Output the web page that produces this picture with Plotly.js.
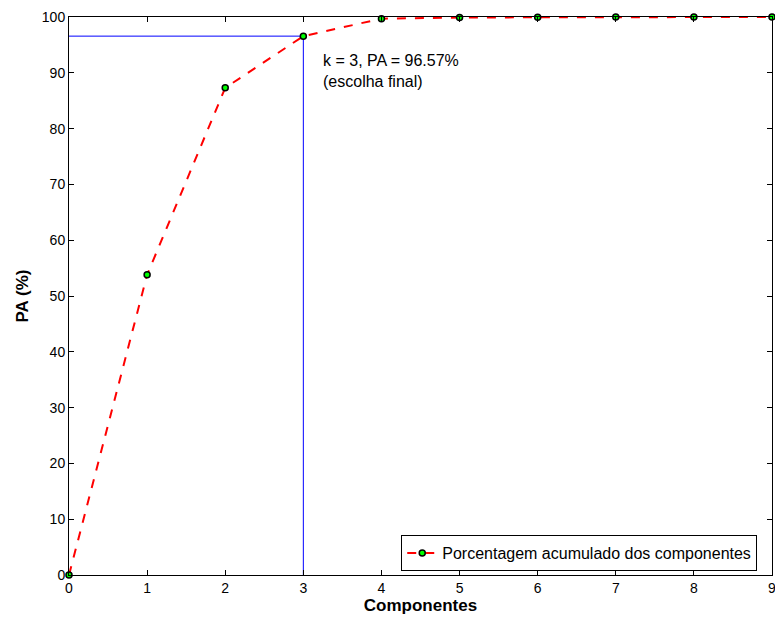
<!DOCTYPE html>
<html>
<head>
<meta charset="utf-8">
<script src="https://cdn.plot.ly/plotly-3.0.1.min.js"></script>
<style>html,body{margin:0;padding:0;background:#fff}</style>
</head>
<body>
<div id="graph" style="width:775px;height:621px"></div>
<script>
// componentes vs porcentagem acumulada
const components = [0, 1, 2, 3, 4, 5, 6, 7, 8, 9];
const pa = [0, 53.8, 87.3, 96.57, 99.7, 99.9, 99.95, 99.98, 99.99, 100];
const chosenK = 3;
const chosenPA = 96.57;

const font = "Liberation Sans, Arial, sans-serif";

const traces = [
  {
    x: [0, chosenK, chosenK],
    y: [chosenPA, chosenPA, 0],
    mode: "lines",
    line: { color: "#0000ff", width: 1 },
    showlegend: false,
    hoverinfo: "skip"
  },
  {
    x: components,
    y: pa,
    mode: "lines+markers",
    cliponaxis: false,
    name: "Porcentagem acumulado dos componentes",
    line: { color: "#ff0000", width: 2, dash: "dash" },
    marker: { color: "#00ff00", size: 6, line: { color: "#000", width: 1.5 } }
  }
];

const axis = {
  showline: true, mirror: "ticks", linecolor: "#000", linewidth: 1,
  ticks: "inside", ticklen: 5, tickcolor: "#000",
  showgrid: false, zeroline: false, ticklabeloverflow: "allow",
  tickfont: { family: font, size: 14, color: "#000" }
};

Plotly.newPlot("graph", traces, {
  width: 775, height: 621,
  margin: { l: 69, r: 3, t: 17, b: 46 },
  paper_bgcolor: "#fff", plot_bgcolor: "#fff",
  xaxis: Object.assign({}, axis, {
    range: [0, 9], dtick: 1,
    title: { text: "<b>Componentes</b>", font: { family: font, size: 17, color: "#000" }, standoff: 2 }
  }),
  yaxis: Object.assign({}, axis, {
    range: [0, 100], dtick: 10,
    title: { text: "<b>PA (%)</b>", font: { family: font, size: 17, color: "#000" }, standoff: 8 }
  }),
  legend: {
    x: 0.979, y: 0.007, xanchor: "right", yanchor: "bottom",
    bordercolor: "#000", borderwidth: 1, bgcolor: "#fff",
    font: { family: font, size: 16, color: "#000" }
  },
  annotations: [{
    x: chosenK, y: chosenPA, xref: "x", yref: "y",
    xanchor: "left", yanchor: "top", xshift: 18, yshift: -14, showarrow: false, align: "left",
    text: "k = " + chosenK + ", PA = " + chosenPA.toFixed(2) + "%<br>(escolha final)",
    font: { family: font, size: 16, color: "#000" }
  }]
}, { displayModeBar: false });
</script>
</body>
</html>
